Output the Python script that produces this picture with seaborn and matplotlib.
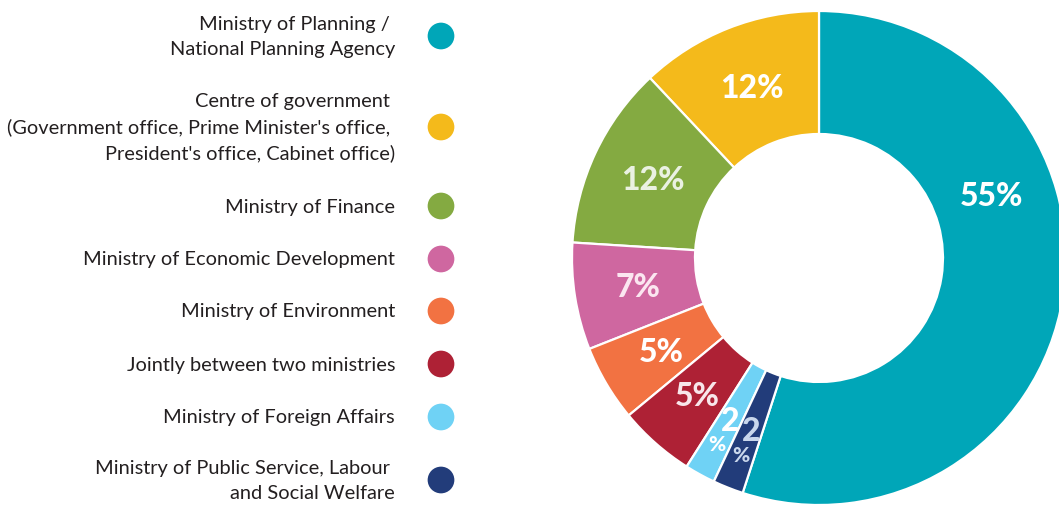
import matplotlib
matplotlib.use("Agg")
import matplotlib.pyplot as plt
import seaborn as sns
import numpy as np

# data
categories = [
    "Ministry of Planning / \nNational Planning Agency",
    "Centre of government \n(Government office, Prime Minister's office, \nPresident's office, Cabinet office)",
    "Ministry of Finance",
    "Ministry of Economic Development",
    "Ministry of Environment",
    "Jointly between two ministries",
    "Ministry of Foreign Affairs",
    "Ministry of Public Service, Labour \nand Social Welfare",
]
shares = [55, 12, 12, 7, 5, 5, 2, 2]
colors = ["#00A6B8", "#F4BA1B", "#84AA41", "#CF67A0", "#F27242", "#AE2135", "#6FD2F5", "#223C7A"]
label_colors = ["#FFFFFF", "#FFFFFF", "#EAF1E2", "#FBE6F0", "#FFFFFF", "#F8E6EA", "#FFFFFF", "#C9D7EC"]

sns.set_theme(style="white")
plt.rcParams["font.family"] = ["Lato", "DejaVu Sans"]

W, H = 1059, 506
fig = plt.figure(figsize=(W / 100, H / 100), dpi=100)
ax = fig.add_axes([0, 0, 1, 1])

# donut, centre and size in pixel units
cx, cy, r_out, ring = 819, H - 259, 247, 123
start = 90 - 360 * shares[0] / sum(shares)
wedges, _ = ax.pie(shares, colors=colors, startangle=start, counterclock=True,
                   center=(cx, cy), radius=r_out,
                   wedgeprops=dict(width=ring, edgecolor="white", linewidth=1.6))

r_lab = r_out - ring / 2 - 2
for i, (w, v) in enumerate(zip(wedges, shares)):
    ang = (w.theta1 + w.theta2) / 2
    if i == 0:
        ang = 20  # big slice label sits high on the right
    c, s = np.cos(np.radians(ang)), np.sin(np.radians(ang))
    if v >= 5:
        ax.text(cx + r_lab * c, cy + r_lab * s, f"{v}%", ha="center", va="center",
                fontsize=23, fontweight=900, color=label_colors[i])
    else:
        # narrow slices: number, then the percent sign further out
        ax.text(cx + r_lab * c, cy + r_lab * s - 2, f"{v}", ha="center", va="center",
                fontsize=23, fontweight=900, color=label_colors[i])
        ax.text(cx + (r_lab + 28) * c, cy + (r_lab + 28) * s, "%", ha="center",
                va="center", fontsize=15, fontweight=900, color=label_colors[i])

# legend on the left, text right aligned next to dots
legend_y = [37, 128, 207, 260, 312, 365, 418, 481]
for lab, col, ly in zip(categories, colors, legend_y):
    ax.scatter([441], [H - ly], s=370, color=col, edgecolor="none")
    ax.text(395, H - ly, lab, ha="right", va="center", multialignment="right",
            fontsize=14.4, color="#231F20", linespacing=1.55)

ax.set_xlim(0, W)
ax.set_ylim(0, H)
ax.set_axis_off()
fig.savefig("out.png", dpi=100)
